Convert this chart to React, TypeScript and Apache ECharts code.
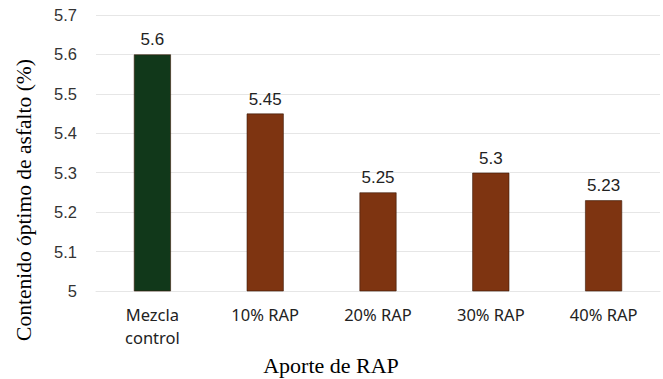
import React, { useEffect, useRef } from "react";
import * as echarts from "echarts";

const categories = ["Mezcla\ncontrol", "10% RAP", "20% RAP", "30% RAP", "40% RAP"];
const values = [5.6, 5.45, 5.25, 5.3, 5.23];
const barColors = ["#11381a", "#7e3411", "#7e3411", "#7e3411", "#7e3411"];
const yTicks = { min: 5, max: 5.7, interval: 0.1 };
const xTitle = "Aporte de RAP";
const yTitle = "Contenido óptimo de asfalto (%)";

const titleStyle = {
  fontFamily: "Liberation Serif",
  fill: "#000",
  textAlign: "center",
  textVerticalAlign: "middle",
};

export default function App() {
  const ref = useRef<HTMLDivElement>(null);

  useEffect(() => {
    if (!ref.current) return;
    const chart = echarts.init(ref.current, undefined, { renderer: "svg" });
    chart.setOption({
      animation: false,
      grid: { left: 96, right: 3, top: 15, bottom: 88 },
      graphic: [
        {
          type: "text",
          x: 24,
          y: 200,
          rotation: Math.PI / 2,
          style: { ...titleStyle, text: yTitle, fontSize: 21.5 },
        },
        {
          type: "text",
          x: 331,
          y: 365,
          style: { ...titleStyle, text: xTitle, fontSize: 22 },
        },
      ],
      xAxis: {
        type: "category",
        data: categories,
        axisLine: { show: true, lineStyle: { color: "#e6e6e6" } },
        axisTick: { show: false },
        axisLabel: {
          fontFamily: "Noto Sans",
          fontSize: 16.5,
          color: "#222",
          margin: 12,
          lineHeight: 23,
          interval: 0,
        },
      },
      yAxis: {
        type: "value",
        min: yTicks.min,
        max: yTicks.max,
        interval: yTicks.interval,
        axisLine: { show: false },
        axisTick: { show: false },
        axisLabel: {
          fontFamily: "Liberation Sans",
          fontSize: 16.5,
          color: "#333",
          margin: 19,
          formatter: (v: number) => String(Math.round(v * 10) / 10),
        },
        splitLine: { lineStyle: { color: "#e6e6e6" } },
      },
      series: [
        {
          type: "bar",
          data: values.map((v, i) => ({
            value: v,
            itemStyle: { color: barColors[i], borderColor: "#3a1a08", borderWidth: 0.6 },
          })),
          barWidth: 37,
          label: {
            show: true,
            position: "top",
            distance: 6,
            fontFamily: "Liberation Sans",
            fontSize: 17,
            color: "#222",
            formatter: (p: any) => String(p.value),
          },
        },
      ],
    });
    return () => chart.dispose();
  }, []);

  return <div ref={ref} style={{ width: 663, height: 379, position: "absolute", left: 0, top: 0 }} />;
}
